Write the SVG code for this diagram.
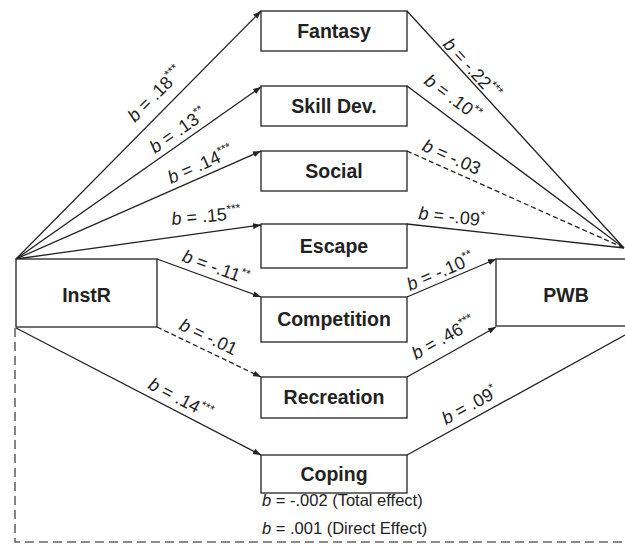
<svg xmlns="http://www.w3.org/2000/svg" width="625" height="548" viewBox="0 0 625 548">
<style>
.box{fill:#fff;stroke:#222;stroke-width:1.3}
.nl{font-family:"Liberation Sans",Arial,sans-serif;font-weight:bold;font-size:19.5px;fill:#222;text-anchor:middle}
.e{fill:none;stroke:#222;stroke-width:1.3}
.d{stroke-dasharray:5,3}
.lb{font-family:"Liberation Sans",Arial,sans-serif;font-size:18px;fill:#222}
.st{font-size:12px}
.bt{font-family:"Liberation Sans",Arial,sans-serif;font-size:16.5px;fill:#222}
</style>
<defs>
<marker id="ah" markerUnits="userSpaceOnUse" markerWidth="8" markerHeight="6" refX="8" refY="3" orient="auto">
<path d="M0,0 L8,3 L0,6 z" fill="#222"/>
</marker>
</defs>
<rect width="625" height="548" fill="#fff"/>
<g id="connectors">
<line class="e" x1="16" y1="259" x2="261" y2="11" marker-end="url(#ah)"/>
<line class="e" x1="16" y1="259" x2="261" y2="87" marker-end="url(#ah)"/>
<line class="e" x1="16" y1="259" x2="261" y2="151" marker-end="url(#ah)"/>
<line class="e" x1="16" y1="259" x2="261" y2="225" marker-end="url(#ah)"/>
<line class="e" x1="157" y1="259" x2="261" y2="297" marker-end="url(#ah)"/>
<line class="e d" x1="157" y1="327" x2="261" y2="377" marker-end="url(#ah)"/>
<line class="e" x1="16" y1="328" x2="261" y2="455" marker-end="url(#ah)"/>
<line class="e" x1="407" y1="11" x2="624" y2="248"/>
<line class="e" x1="407" y1="86" x2="624" y2="248"/>
<line class="e d" x1="407" y1="151" x2="624" y2="248"/>
<line class="e" x1="407" y1="224" x2="624" y2="248"/>
<line class="e" x1="407" y1="297" x2="496" y2="259" marker-end="url(#ah)"/>
<line class="e" x1="407" y1="377" x2="496" y2="327" marker-end="url(#ah)"/>
<line class="e" x1="407" y1="455" x2="625" y2="335"/>
<path d="M15,328 V542 H625" fill="none" stroke="#666" stroke-width="1.6" stroke-dasharray="9,5"/>
<g class="lb">
<text transform="translate(135,123) rotate(-45.3)"><tspan font-style="italic">b</tspan> = .18<tspan class="st" dy="-7">***</tspan></text>
<text transform="translate(155,154) rotate(-35.1)"><tspan font-style="italic">b</tspan> = .13<tspan class="st" dy="-7">**</tspan></text>
<text transform="translate(171,184) rotate(-23.8)"><tspan font-style="italic">b</tspan> = .14<tspan class="st" dy="-7">***</tspan></text>
<text transform="translate(172,225) rotate(-5)"><tspan font-style="italic">b</tspan> = .15<tspan class="st" dy="-7">***</tspan></text>
<text transform="translate(181,261) rotate(20.1)"><tspan font-style="italic">b</tspan> = -.11<tspan class="st" dy="-7">**</tspan></text>
<text transform="translate(178,329) rotate(25.7)"><tspan font-style="italic">b</tspan> = -.01</text>
<text transform="translate(147,388) rotate(27.6)"><tspan font-style="italic">b</tspan> = .14<tspan class="st" dy="-7">***</tspan></text>
<text transform="translate(442,45) rotate(47.5)"><tspan font-style="italic">b</tspan> = -.22<tspan class="st" dy="-7">***</tspan></text>
<text transform="translate(423,83) rotate(36.7)"><tspan font-style="italic">b</tspan> = .10<tspan class="st" dy="-7">**</tspan></text>
<text transform="translate(421,150) rotate(24.1)"><tspan font-style="italic">b</tspan> = -.03</text>
<text transform="translate(418,219) rotate(6.3)"><tspan font-style="italic">b</tspan> = -.09<tspan class="st" dy="-7">*</tspan></text>
<text transform="translate(410,291) rotate(-23.1)"><tspan font-style="italic">b</tspan> = -.10<tspan class="st" dy="-7">**</tspan></text>
<text transform="translate(416,360) rotate(-29.3)"><tspan font-style="italic">b</tspan> = .46<tspan class="st" dy="-7">***</tspan></text>
<text transform="translate(446,425) rotate(-28.8)"><tspan font-style="italic">b</tspan> = .09<tspan class="st" dy="-7">*</tspan></text>
</g>
<text class="bt" x="262" y="506"><tspan font-style="italic">b</tspan> = -.002 (Total effect)</text>
<text class="bt" x="262" y="534"><tspan font-style="italic">b</tspan> = .001 (Direct Effect)</text>
</g>
<g id="InstR"><rect class="box" x="16" y="259" width="141" height="68"/><text class="nl" x="86.5" y="302">InstR</text></g>
<g id="PWB"><rect class="box" x="496" y="259" width="132" height="67"/><text class="nl" x="566" y="302">PWB</text></g>
<g id="Fantasy"><rect class="box" x="261" y="11" width="146" height="40"/><text class="nl" x="334" y="38">Fantasy</text></g>
<g id="SkillDev"><rect class="box" x="261" y="86" width="146" height="40"/><text class="nl" x="334" y="113">Skill Dev.</text></g>
<g id="Social"><rect class="box" x="261" y="151" width="146" height="40"/><text class="nl" x="334" y="178">Social</text></g>
<g id="Escape"><rect class="box" x="261" y="224" width="146" height="44"/><text class="nl" x="334" y="253">Escape</text></g>
<g id="Competition"><rect class="box" x="261" y="297" width="146" height="45"/><text class="nl" x="334" y="326">Competition</text></g>
<g id="Recreation"><rect class="box" x="261" y="377" width="146" height="41"/><text class="nl" x="334" y="404">Recreation</text></g>
<g id="Coping"><rect class="box" x="261" y="455" width="146" height="38"/><text class="nl" x="334" y="481">Coping</text></g>
</svg>
